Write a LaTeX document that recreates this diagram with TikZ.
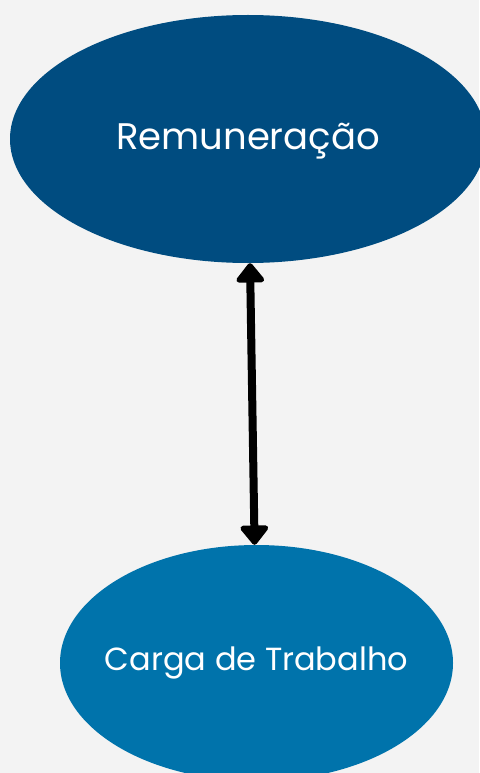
\documentclass[tikz,border=0pt]{standalone}
\usepackage{fontspec}
\setmainfont{Poppins}
\usetikzlibrary{shapes.geometric,arrows.meta}

\definecolor{fundo}{HTML}{F3F3F3}
\definecolor{azulescuro}{HTML}{004C80}
\definecolor{azulclaro}{HTML}{0073AB}

\tikzset{
  bolha/.style={ellipse, inner sep=0pt},
  rotulo/.style={text=white, inner sep=0pt},
  seta/.style={line width=8pt, {Triangle[length=21pt, width=32pt, round]}-{Triangle[length=21pt, width=32pt, round]}}
}

\begin{document}
\begin{tikzpicture}[x=1pt, y=-1pt]

\fill[fundo] (0,0) rectangle (479,773);
\useasboundingbox (0,0) rectangle (479,773);

\node[bolha, fill=azulescuro, minimum width=476pt, minimum height=248pt,
  label={[rotulo, font=\fontsize{37}{44}\selectfont, yshift=-2pt]center:Remuneração}] (rem) at (248,139) {};

\node[bolha, fill=azulclaro, minimum width=393pt, minimum height=236pt,
  label={[rotulo, font=\fontsize{32}{38}\selectfont]center:Carga de Trabalho}] (carga) at (256.5,663) {};

\draw[seta] (rem) -- (carga);

\end{tikzpicture}
\end{document}
